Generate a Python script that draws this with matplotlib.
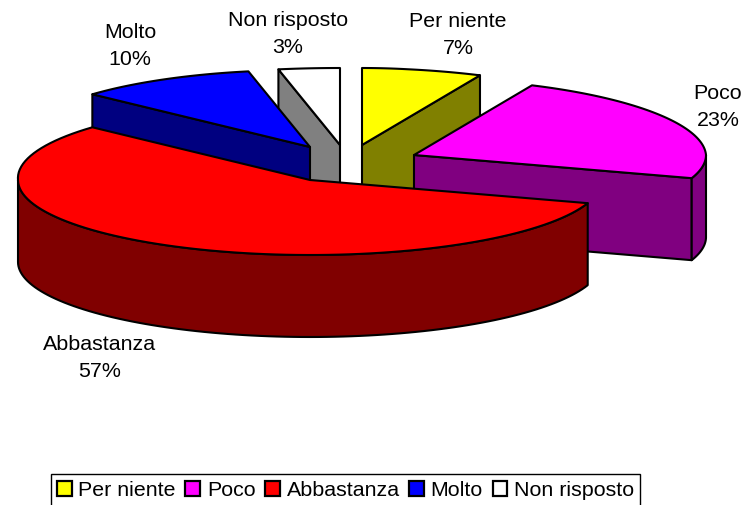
import numpy as np
import matplotlib
matplotlib.use('Agg')
import matplotlib.pyplot as plt
from matplotlib.patches import Patch, Polygon

plt.rcParams['font.family'] = ['Liberation Sans', 'DejaVu Sans']

categories = ['Per niente', 'Poco', 'Abbastanza', 'Molto', 'Non risposto']
values = [7, 23, 57, 10, 3]
top_colors = ['#ffff00', '#ff00ff', '#ff0000', '#0000ff', '#ffffff']
side_colors = ['#808000', '#800080', '#800000', '#000080', '#808080']

# where each slice tip ends up after the explosion, in pixels
tips = [(362, 145), (414, 155), (310, 180), (310, 147), (340, 145)]
label_pos = [(458, 35), (718, 107), (100, 358), (130, 46), (288, 34)]

rx, ry = 292, 75
depth = 82
# back to front
draw_order = [4, 0, 3, 1, 2]


def rim(tip, a0, a1, dy=0):
    t = np.radians(np.linspace(a0, a1, 100))
    # the back of the pie leans a bit to the left in the original
    back = np.clip(np.cos(t), 0, None)
    lean = 7 * back * np.clip(np.abs(np.sin(t)) / 0.18, 0, 1)
    return np.column_stack([tip[0] + rx * np.sin(t) - lean, tip[1] - ry * np.cos(t) - 2 * back + dy])


def face(ax, pts, color):
    ax.add_patch(Polygon(pts, closed=True, facecolor=color, edgecolor='black', lw=1.5, joinstyle='round'))


fig = plt.figure(figsize=(7.45, 5.05), dpi=100)
ax = fig.add_axes([0, 0, 1, 1])
ax.set_xlim(0, 745)
ax.set_ylim(505, 0)
ax.axis('off')

edges = np.cumsum([0] + values) / sum(values) * 360
for i in draw_order:
    a0, a1 = edges[i], edges[i + 1]
    tip = tips[i]
    # radial side faces, only those turned to the viewer
    for a, show in ((a0, np.sin(np.radians(a0)) < -1e-6), (a1, np.sin(np.radians(a1)) > 1e-6)):
        if show:
            p = rim(tip, a, a, 0)[0]
            face(ax, [tip, p, (p[0], p[1] + depth), (tip[0], tip[1] + depth)], side_colors[i])
    # outer wall, front half only
    w0, w1 = max(a0, 90), min(a1, 270)
    if w1 > w0:
        face(ax, np.vstack([rim(tip, w0, w1), rim(tip, w1, w0, depth)]), side_colors[i])
    face(ax, np.vstack([[tip], rim(tip, a0, a1)]), top_colors[i])

for name, v, pos in zip(categories, values, label_pos):
    ax.text(pos[0], pos[1], '%s\n%d%%' % (name, v), ha='center', va='center', fontsize=15.4, linespacing=1.5)

handles = [Patch(facecolor=c, edgecolor='black', lw=1.6) for c in top_colors]
ax.legend(handles, categories, loc='center', bbox_to_anchor=(345.5 / 745, 1 - 490 / 505), ncol=5,
          fontsize=15.4, fancybox=False, framealpha=1, edgecolor='black', borderpad=0.3,
          handlelength=0.7, handleheight=0.7, handletextpad=0.3, columnspacing=0.45, borderaxespad=0)

fig.savefig('out.png', dpi=100)
